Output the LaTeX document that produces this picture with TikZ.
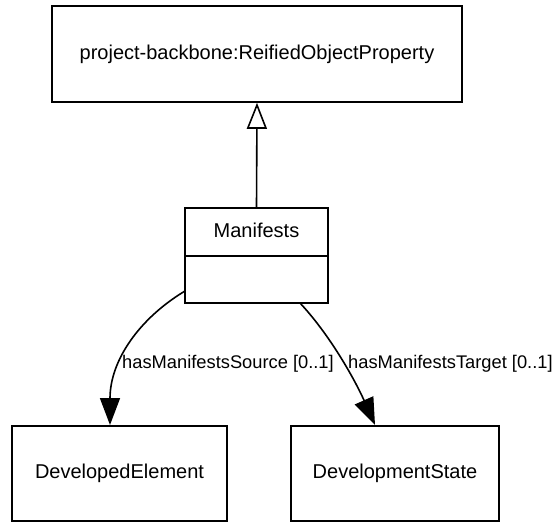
\documentclass[tikz,border=0pt]{standalone}
\usepackage{fontspec}
\setmainfont{Liberation Sans}
\usetikzlibrary{arrows.meta}
\tikzset{
  box/.style={draw, line width=1.6pt, rectangle, inner sep=0pt, font=\fontsize{20}{24}\selectfont},
  lbl/.style={inner sep=0pt, anchor=base west, font=\fontsize{18.3}{22}\selectfont},
  conn/.style={line width=1.6pt, -{Triangle[length=27pt,width=20pt]}},
  inh/.style={line width=1.6pt, -{Triangle[open,length=26pt,width=20pt,fill=white]}}
}
\begin{document}
\begin{tikzpicture}[x=1pt,y=-1pt]
\useasboundingbox (0,0) rectangle (559,523);
\node[box, minimum width=410pt, minimum height=96pt] (top) at (257,54) {project-backbone:ReifiedObjectProperty};
\node[box, minimum width=143pt, minimum height=95pt] (man) at (256.5,255.5) {};
\node[inner sep=0pt, anchor=base, font=\fontsize{20}{24}\selectfont] (manname) at (256.5,237) {Manifests};
\coordinate (divl) at (185,256);
\coordinate (divr) at (328,256);
\draw[line width=1.6pt] (divl) -- (divr);
\node[box, minimum width=215pt, minimum height=95pt] (de) at (119.5,473.5) {DevelopedElement};
\node[box, minimum width=208pt, minimum height=95pt] (ds) at (395,473.5) {DevelopmentState};
\draw[inh] (man.north) -- (top.south);
\coordinate (ls) at (185,291);
\coordinate (lt) at (110,425);
\coordinate (rs) at (300,303);
\coordinate (rt) at (375,425);
\draw[conn] (ls) .. controls (140,318) and (110,360) .. (lt);
\draw[conn] (rs) .. controls (330,335) and (355,380) .. (rt);
\node[lbl] (l1) at (122,368) {hasManifestsSource [0..1]};
\node[lbl] (l2) at (348,368) {hasManifestsTarget [0..1]};
\end{tikzpicture}
\end{document}
